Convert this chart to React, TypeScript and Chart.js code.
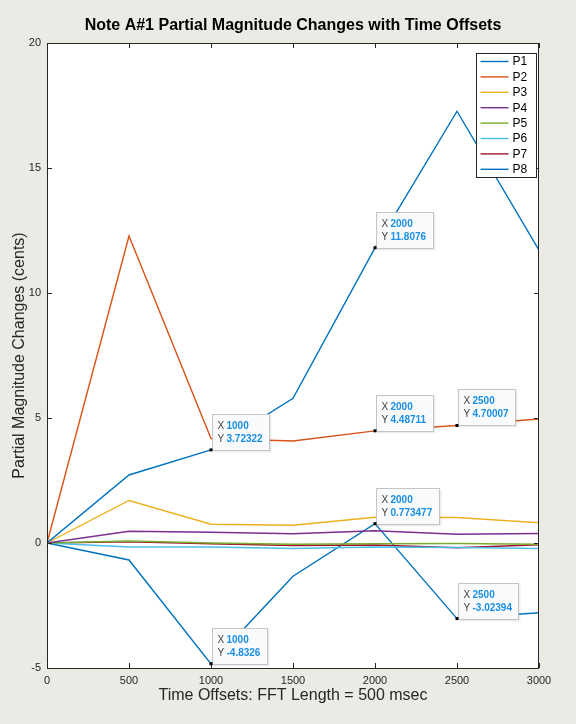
import React, { useEffect, useRef } from "react";
import { Chart, registerables } from "chart.js";

Chart.register(...registerables);

const chartTitle = "Note A#1 Partial Magnitude Changes with Time Offsets";
const xAxisTitle = "Time Offsets: FFT Length = 500 msec";
const yAxisTitle = "Partial Magnitude Changes (cents)";

const timeOffsets = [0, 500, 1000, 1500, 2000, 2500, 3000];
const xTickValues = [0, 500, 1000, 1500, 2000, 2500, 3000];
const yTickValues = [-5, 0, 5, 10, 15, 20];

const seriesLabels = ["P1", "P2", "P3", "P4", "P5", "P6", "P7", "P8"];
const p1 = [0, 2.72, 3.72322, 5.79, 11.8076, 17.27, 11.71];
const p2 = [0, 12.28, 4.18, 4.08, 4.48711, 4.70007, 4.96];
const p3 = [0, 1.7, 0.75, 0.71, 1.03, 1.02, 0.81];
const p4 = [0, 0.47, 0.43, 0.37, 0.49, 0.35, 0.38];
const p5 = [0, 0.08, 0.0, -0.05, -0.03, -0.02, -0.05];
const p6 = [0, -0.16, -0.16, -0.22, -0.16, -0.18, -0.22];
const p7 = [0, 0.05, -0.03, -0.1, -0.08, -0.19, -0.07];
const p8 = [0, -0.68, -4.8326, -1.33, 0.773477, -3.02394, -2.79];
const allSeries = [p1, p2, p3, p4, p5, p6, p7, p8];
const seriesColors = ["#0072BD", "#D95319", "#EDB120", "#7E2F8E", "#77AC30", "#4DBEEE", "#A2142F", "#0072BD"];

// data tips: which series and which x value
const tipSeries = [0, 0, 1, 1, 7, 7, 7];
const tipX = [1000, 2000, 2000, 2500, 1000, 2000, 2500];

const FONT = "'Liberation Sans', Arial, Helvetica, sans-serif";
const FIG_BG = "#ECEAE5";
const AXIS_COLOR = "#262626";

const matlabPlugin = {
  id: "matlabFrame",
  beforeDraw(chart: any) {
    const { ctx, chartArea } = chart;
    ctx.save();
    ctx.fillStyle = FIG_BG;
    ctx.fillRect(0, 0, chart.width, chart.height);
    ctx.fillStyle = "#FFFFFF";
    ctx.fillRect(chartArea.left, chartArea.top, chartArea.right - chartArea.left, chartArea.bottom - chartArea.top);
    // title centred over the axes
    ctx.fillStyle = "#000000";
    ctx.font = `bold 16px ${FONT}`;
    ctx.textAlign = "center";
    ctx.textBaseline = "middle";
    ctx.fillText(chartTitle, (chartArea.left + chartArea.right) / 2, chartArea.top - 17);
    ctx.restore();
  },
  afterDatasetsDraw(chart: any) {
    const { ctx, chartArea, scales } = chart;
    const { left, right, top, bottom } = chartArea;
    ctx.save();
    // inward ticks
    ctx.strokeStyle = AXIS_COLOR;
    ctx.lineWidth = 1;
    const tl = 5;
    ctx.beginPath();
    for (const v of xTickValues) {
      const px = Math.round(scales.x.getPixelForValue(v)) + 0.5;
      ctx.moveTo(px, bottom);
      ctx.lineTo(px, bottom - tl);
      ctx.moveTo(px, top);
      ctx.lineTo(px, top + tl);
    }
    for (const v of yTickValues) {
      const py = Math.round(scales.y.getPixelForValue(v)) + 0.5;
      ctx.moveTo(left, py);
      ctx.lineTo(left + tl, py);
      ctx.moveTo(right, py);
      ctx.lineTo(right - tl, py);
    }
    ctx.stroke();

    // data tips
    for (let i = 0; i < tipSeries.length; i++) {
      const si = tipSeries[i];
      const xv = tipX[i];
      const idx = timeOffsets.indexOf(xv);
      const yv = allSeries[si][idx];
      const px = scales.x.getPixelForValue(xv);
      const py = scales.y.getPixelForValue(yv);
      const xs = String(xv);
      const ys = String(Number(yv.toPrecision(6)));
      ctx.font = `bold 10px ${FONT}`;
      const wv = Math.max(ctx.measureText(xs).width, ctx.measureText(ys).width);
      const w = Math.round(14 + wv + 7);
      const h = 36;
      const bx = Math.round(px) + 1.5;
      const by = Math.round(py - h) + 0.5;
      ctx.fillStyle = "rgba(0,0,0,0.07)";
      ctx.fillRect(bx + 1, by + 1, w + 1, h + 1);
      ctx.fillStyle = "#F8FAFC";
      ctx.fillRect(bx, by, w, h);
      ctx.strokeStyle = "#C4C4C4";
      ctx.lineWidth = 1;
      ctx.strokeRect(bx, by, w, h);
      ctx.textBaseline = "middle";
      ctx.textAlign = "left";
      ctx.font = `10px ${FONT}`;
      ctx.fillStyle = "#404040";
      ctx.fillText("X", bx + 5, by + 12);
      ctx.fillText("Y", bx + 5, by + 25);
      ctx.font = `bold 10px ${FONT}`;
      ctx.fillStyle = "#1A8FE3";
      ctx.fillText(xs, bx + 14, by + 12);
      ctx.fillText(ys, bx + 14, by + 25);
      ctx.fillStyle = "#000000";
      ctx.fillRect(px - 1.5, py - 1.5, 3, 3);
    }

    // legend
    const lw = 60;
    const rowH = 15.4;
    const lh = 124;
    const lx = Math.round(right - 3 - lw) + 0.5;
    const ly = Math.round(top + 10) + 0.5;
    ctx.fillStyle = "#FFFFFF";
    ctx.fillRect(lx, ly, lw, lh);
    ctx.strokeStyle = AXIS_COLOR;
    ctx.lineWidth = 1;
    ctx.strokeRect(lx, ly, lw, lh);
    ctx.font = `12px ${FONT}`;
    ctx.textBaseline = "middle";
    ctx.textAlign = "left";
    chart.data.datasets.forEach((ds: any, k: number) => {
      const cy = ly + 8 + k * rowH;
      ctx.strokeStyle = ds.borderColor;
      ctx.lineWidth = 1.4;
      ctx.beginPath();
      ctx.moveTo(lx + 4, cy);
      ctx.lineTo(lx + 32, cy);
      ctx.stroke();
      ctx.fillStyle = "#000000";
      ctx.fillText(ds.label, lx + 36, cy + 0.5);
    });

    // frame box
    ctx.strokeStyle = AXIS_COLOR;
    ctx.lineWidth = 1;
    ctx.strokeRect(Math.round(left) + 0.5, Math.round(top) + 0.5, Math.round(right - left) - 1, Math.round(bottom - top));
    ctx.restore();
  },
};

export default function App() {
  const canvasRef = useRef<HTMLCanvasElement | null>(null);

  useEffect(() => {
    document.body.style.margin = "0";
    document.body.style.background = FIG_BG;
    const canvas = canvasRef.current;
    if (!canvas) return;
    Chart.defaults.font.family = FONT;

    const chart = new Chart(canvas, {
      type: "line",
      data: {
        datasets: allSeries.map((vals, k) => ({
          label: seriesLabels[k],
          data: timeOffsets.map((x, i) => ({ x, y: vals[i] })),
          borderColor: seriesColors[k],
          backgroundColor: seriesColors[k],
          borderWidth: 1.4,
          pointRadius: 0,
          tension: 0,
          fill: false,
        })),
      },
      options: {
        responsive: false,
        animation: false,
        layout: { padding: { left: 10, right: 37, top: 43, bottom: 0 } },
        plugins: {
          legend: { display: false },
          tooltip: { enabled: false },
          title: { display: false },
        },
        scales: {
          x: {
            type: "linear",
            min: 0,
            max: 3000,
            afterFit: (s: any) => {
              s.height = 56;
            },
            afterBuildTicks: (s: any) => {
              s.ticks = xTickValues.map((v) => ({ value: v }));
            },
            grid: { display: false, drawTicks: false },
            border: { display: false },
            ticks: {
              color: AXIS_COLOR,
              font: { size: 11, family: FONT },
              padding: 6,
              maxRotation: 0,
              callback: (v: any) => String(v),
            },
            title: {
              display: true,
              text: xAxisTitle,
              color: AXIS_COLOR,
              font: { size: 16, family: FONT },
              padding: { top: 0, bottom: 19 },
            },
          },
          y: {
            type: "linear",
            min: -5,
            max: 20,
            afterFit: (s: any) => {
              s.width = 37;
            },
            afterBuildTicks: (s: any) => {
              s.ticks = yTickValues.map((v) => ({ value: v }));
            },
            grid: { display: false, drawTicks: false },
            border: { display: false },
            ticks: {
              color: AXIS_COLOR,
              font: { size: 11, family: FONT },
              padding: 6,
              callback: (v: any) => String(v),
            },
            title: {
              display: true,
              text: yAxisTitle,
              color: AXIS_COLOR,
              font: { size: 16, family: FONT },
              padding: { top: 0, bottom: 0 },
            },
          },
        },
      },
      plugins: [matlabPlugin],
    } as any);

    return () => {
      chart.destroy();
    };
  }, []);

  return (
    <div style={{ width: 576, height: 724, background: FIG_BG }}>
      <canvas ref={canvasRef} width={576} height={724} style={{ display: "block" }} />
    </div>
  );
}
